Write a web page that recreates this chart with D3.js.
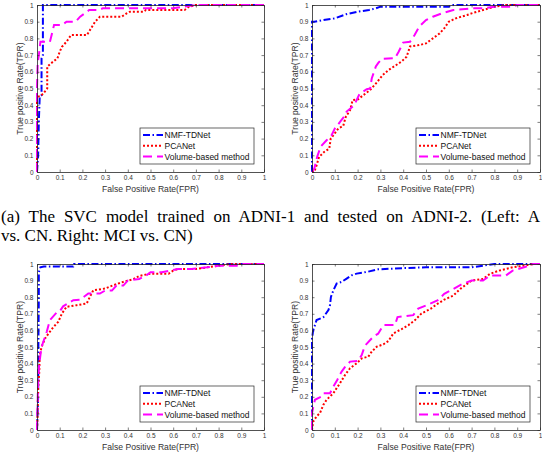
<!DOCTYPE html>
<html>
<head>
<meta charset="utf-8">
<script src="https://cdn.jsdelivr.net/npm/d3@7"></script>
<style>
  body { margin: 0; background: #fff; }
  svg { display: block; }
</style>
</head>
<body>
<div id="figure"></div>
<script>
// ROC points [FPR, TPR]
const tlNmf = [[0,0],[0.005,0.1],[0.008,0.3],[0.012,0.45],[0.02,0.46],[0.02,0.68],[0.026,0.7],[0.026,1],[1,1]];
const tlPca = [[0,0],[0,0.45],[0.015,0.455],[0.028,0.47],[0.045,0.5],[0.045,0.63],[0.07,0.66],[0.09,0.68],[0.1,0.72],[0.11,0.75],[0.13,0.78],[0.15,0.82],[0.22,0.82],[0.238,0.86],[0.256,0.9],[0.277,0.93],[0.373,0.93],[0.395,0.95],[0.41,0.96],[0.47,0.96],[0.48,0.97],[0.65,0.97],[0.67,0.99],[0.7,1],[1,1]];
const tlVol = [[0,0],[0,0.5],[0.003,0.65],[0.01,0.72],[0.015,0.78],[0.057,0.78],[0.068,0.84],[0.075,0.88],[0.11,0.88],[0.13,0.9],[0.17,0.9],[0.19,0.93],[0.21,0.95],[0.23,0.97],[0.27,0.97],[0.29,0.98],[0.6,0.98],[0.65,0.99],[0.7,1],[1,1]];

const trNmf = [[0,0],[0,0.9],[0.01,0.9],[0.05,0.91],[0.1,0.92],[0.15,0.945],[0.2,0.96],[0.25,0.97],[0.28,0.98],[0.3,0.99],[0.4,0.99],[0.6,0.99],[0.62,1],[1,1]];
const trPca = [[0,0],[0.01,0],[0.02,0.04],[0.031,0.09],[0.053,0.12],[0.076,0.14],[0.082,0.2],[0.094,0.22],[0.115,0.26],[0.137,0.276],[0.148,0.33],[0.167,0.37],[0.178,0.43],[0.203,0.436],[0.225,0.46],[0.254,0.49],[0.284,0.536],[0.31,0.58],[0.335,0.61],[0.371,0.642],[0.393,0.662],[0.415,0.69],[0.43,0.752],[0.47,0.76],[0.5,0.77],[0.53,0.8],[0.56,0.83],[0.58,0.86],[0.6,0.9],[0.63,0.92],[0.68,0.94],[0.7,0.95],[0.75,0.97],[0.8,0.99],[0.85,1],[1,1]];
const trVol = [[0,0],[0.01,0.02],[0.023,0.092],[0.038,0.152],[0.064,0.19],[0.086,0.22],[0.1,0.26],[0.123,0.3],[0.14,0.33],[0.152,0.362],[0.185,0.4],[0.208,0.466],[0.24,0.496],[0.255,0.5],[0.262,0.56],[0.28,0.632],[0.29,0.652],[0.306,0.678],[0.364,0.682],[0.38,0.72],[0.4,0.775],[0.43,0.78],[0.45,0.82],[0.47,0.87],[0.5,0.91],[0.53,0.93],[0.57,0.95],[0.62,0.97],[0.7,0.98],[0.75,0.98],[0.8,0.99],[0.88,0.99],[0.9,1],[1,1]];

const blNmf = [[0,0],[0.005,0.2],[0.006,0.5],[0.008,0.8],[0.008,0.95],[0.015,0.98],[0.03,0.985],[0.16,0.985],[0.163,1],[1,1]];
const blPca = [[0,0],[0.003,0.1],[0.005,0.25],[0.01,0.35],[0.012,0.45],[0.02,0.5],[0.035,0.55],[0.05,0.58],[0.072,0.62],[0.094,0.652],[0.109,0.7],[0.13,0.742],[0.175,0.752],[0.219,0.762],[0.233,0.802],[0.248,0.842],[0.3,0.852],[0.336,0.872],[0.388,0.896],[0.424,0.908],[0.45,0.928],[0.5,0.942],[0.58,0.942],[0.6,0.96],[0.62,0.97],[0.7,0.97],[0.75,0.98],[0.8,0.99],[0.85,1],[1,1]];
const blVol = [[0,0],[0.005,0.3],[0.01,0.4],[0.02,0.5],[0.043,0.592],[0.057,0.662],[0.087,0.708],[0.1,0.715],[0.115,0.745],[0.16,0.782],[0.19,0.785],[0.226,0.822],[0.277,0.822],[0.3,0.84],[0.33,0.84],[0.35,0.87],[0.38,0.87],[0.4,0.9],[0.45,0.91],[0.48,0.93],[0.5,0.95],[0.55,0.95],[0.62,0.97],[0.68,0.97],[0.75,0.98],[0.8,0.99],[0.88,0.99],[0.9,1],[1,1]];

const brNmf = [[0,0],[0,0.55],[0.005,0.6],[0.013,0.632],[0.02,0.662],[0.038,0.672],[0.05,0.68],[0.072,0.722],[0.079,0.752],[0.083,0.802],[0.094,0.842],[0.108,0.882],[0.13,0.892],[0.152,0.912],[0.174,0.932],[0.196,0.942],[0.24,0.952],[0.29,0.968],[0.4,0.975],[0.5,0.98],[0.7,0.98],[0.75,0.99],[0.8,1],[1,1]];
const brPca = [[0,0],[0.005,0.05],[0.02,0.082],[0.035,0.102],[0.05,0.152],[0.064,0.182],[0.094,0.222],[0.108,0.252],[0.123,0.282],[0.145,0.332],[0.167,0.372],[0.196,0.402],[0.219,0.432],[0.247,0.442],[0.262,0.472],[0.284,0.502],[0.313,0.516],[0.335,0.536],[0.357,0.582],[0.393,0.608],[0.423,0.632],[0.452,0.662],[0.48,0.702],[0.52,0.73],[0.55,0.76],[0.58,0.785],[0.62,0.81],[0.65,0.85],[0.68,0.88],[0.7,0.9],[0.75,0.91],[0.78,0.94],[0.82,0.96],[0.88,0.98],[0.93,0.99],[0.97,1],[1,1]];
const brVol = [[0,0],[0,0.1],[0.006,0.142],[0.013,0.182],[0.04,0.2],[0.05,0.222],[0.079,0.222],[0.094,0.262],[0.11,0.3],[0.13,0.352],[0.145,0.38],[0.167,0.412],[0.203,0.416],[0.218,0.452],[0.232,0.508],[0.269,0.562],[0.29,0.58],[0.313,0.632],[0.364,0.632],[0.375,0.68],[0.444,0.692],[0.466,0.732],[0.503,0.752],[0.55,0.78],[0.58,0.82],[0.62,0.85],[0.66,0.88],[0.7,0.9],[0.75,0.9],[0.78,0.93],[0.85,0.93],[0.88,0.96],[0.93,0.98],[0.97,1],[1,1]];

const methods = ["NMF-TDNet", "PCANet", "Volume-based method"];
const tickValues = [0,0.1,0.2,0.3,0.4,0.5,0.6,0.7,0.8,0.9,1];
const xLabel = "False Positive Rate(FPR)";
const yLabel = "True positive Rate(TPR)";
const captionLine1 = "(a) The SVC model trained on ADNI-1 and tested on ADNI-2. (Left: A";
const captionLine2 = "vs. CN. Right: MCI vs. CN)";

const width = 542;
const height = 454;

const styles = [
  { color: "#0000ff", dash: "7,2.5,1.5,2.5" },
  { color: "#ff0000", dash: "2,2" },
  { color: "#ff00ff", dash: "9,5" }
];

const panels = [
  { left: 37, right: 264, top: 5, bottom: 172, series: [tlNmf, tlPca, tlVol] },
  { left: 312, right: 540, top: 5, bottom: 172, series: [trNmf, trPca, trVol] },
  { left: 37, right: 264, top: 264, bottom: 430, series: [blNmf, blPca, blVol] },
  { left: 312, right: 540, top: 264, bottom: 430, series: [brNmf, brPca, brVol] }
];

const svg = d3.select("#figure")
  .append("svg")
  .attr("width", width)
  .attr("height", height);

const fmt = d => (d === 0 || d === 1) ? String(d) : d.toFixed(1);
const axisColor = "#262626";

panels.forEach(function(p) {
  const g = svg.append("g");

  const xScale = d3.scaleLinear().domain([0, 1]).range([p.left, p.right]);
  const yScale = d3.scaleLinear().domain([0, 1]).range([p.bottom, p.top]);

  const lineGenerator = d3.line()
    .x(d => xScale(d[0]))
    .y(d => yScale(d[1]));

  // curves
  p.series.forEach(function(s, i) {
    g.append("path")
      .datum(s)
      .attr("fill", "none")
      .attr("stroke", styles[i].color)
      .attr("stroke-width", 2)
      .attr("stroke-dasharray", styles[i].dash)
      .attr("d", lineGenerator);
  });

  // axes, ticks pointing inward, box all round
  const axes = [
    { a: d3.axisBottom(xScale).tickFormat(fmt), t: `translate(0,${p.bottom})` },
    { a: d3.axisLeft(yScale).tickFormat(fmt), t: `translate(${p.left},0)` },
    { a: d3.axisTop(xScale).tickFormat(""), t: `translate(0,${p.top})` },
    { a: d3.axisRight(yScale).tickFormat(""), t: `translate(${p.right},0)` }
  ];
  axes.forEach(function(ax) {
    const ag = g.append("g")
      .attr("transform", ax.t)
      .call(ax.a.tickValues(tickValues).tickSizeInner(-2.5).tickSizeOuter(0).tickPadding(3.5));
    ag.select(".domain").attr("stroke", axisColor).attr("stroke-width", 0.8);
    ag.selectAll(".tick line").attr("stroke", axisColor).attr("stroke-width", 0.6);
    ag.selectAll(".tick text")
      .attr("fill", "#333")
      .style("font-family", "'Liberation Sans', Arial, sans-serif")
      .style("font-size", "6.5px");
  });

  g.append("text")
    .attr("x", (p.left + p.right) / 2)
    .attr("y", p.bottom + 20)
    .attr("text-anchor", "middle")
    .attr("fill", "#333")
    .style("font-family", "'Liberation Sans', Arial, sans-serif")
    .style("font-size", "8.6px")
    .text(xLabel);

  g.append("text")
    .attr("transform", "rotate(-90)")
    .attr("x", -(p.top + p.bottom) / 2)
    .attr("y", p.left - 14.5)
    .attr("text-anchor", "middle")
    .attr("fill", "#333")
    .style("font-family", "'Liberation Sans', Arial, sans-serif")
    .style("font-size", "8.6px")
    .text(yLabel);

  // legend
  const lx = p.right - 124;
  const ly = p.bottom - 44;
  const legend = g.append("g").attr("transform", `translate(${lx},${ly})`);
  legend.append("rect")
    .attr("width", 114)
    .attr("height", 36)
    .attr("fill", "#fff")
    .attr("stroke", axisColor)
    .attr("stroke-width", 0.7);
  methods.forEach(function(m, i) {
    const yy = 7 + i * 10.8;
    legend.append("line")
      .attr("x1", 3).attr("x2", 23)
      .attr("y1", yy).attr("y2", yy)
      .attr("stroke", styles[i].color)
      .attr("stroke-width", 2)
      .attr("stroke-dasharray", styles[i].dash);
    legend.append("text")
      .attr("x", 24.5)
      .attr("y", yy + 3)
      .attr("fill", "#111")
      .style("font-family", "'Liberation Sans', Arial, sans-serif")
      .style("font-size", "8.5px")
      .text(m);
  });
});

// caption, first line justified across the width
const captionFont = "'Liberation Serif', 'Times New Roman', serif";
const cap1 = svg.append("text")
  .attr("x", 1)
  .attr("y", 222)
  .style("font-family", captionFont)
  .style("font-size", "17px")
  .text(captionLine1);
const natural = cap1.node().getComputedTextLength();
const spaces = captionLine1.split(" ").length - 1;
cap1.attr("word-spacing", Math.max(0, (539 - natural) / spaces));

svg.append("text")
  .attr("x", 1)
  .attr("y", 241)
  .style("font-family", captionFont)
  .style("font-size", "17px")
  .text(captionLine2);
</script>
</body>
</html>
